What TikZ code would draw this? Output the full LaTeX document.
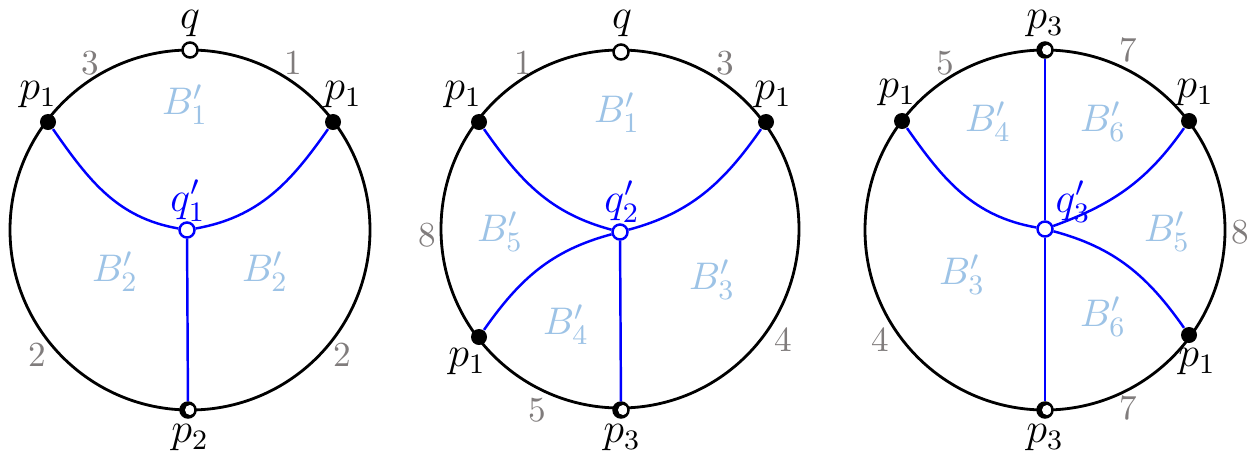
\documentclass[tikz,border=0pt]{standalone}
\definecolor{regblue}{RGB}{157,195,230}
\definecolor{arcgray}{RGB}{128,124,124}
\tikzset{
    pt/.style={circle,fill=black,inner sep=0pt,minimum size=0.16cm},
    opn/.style={circle,draw=black,fill=white,line width=0.7pt,inner sep=0pt,minimum size=0.15cm},
    ctr/.style={circle,draw=blue,fill=white,line width=0.7pt,inner sep=0pt,minimum size=0.15cm},
    half/.style={circle,draw=black,fill=white,line width=0.7pt,inner sep=0pt,minimum size=0.15cm,
        path picture={\fill[black] (path picture bounding box.south west) rectangle (path picture bounding box.north east);
                      \fill[white] ([xshift=0.02cm]path picture bounding box.center) circle (0.05cm);}},
    lab/.style={font=\large,inner sep=1pt},
    qlab/.style={lab,text=blue},
    num/.style={text=arcgray,font=\normalsize},
    reg/.style={text=regblue,font=\fontsize{10.95}{13}\selectfont},
    edge/.style={blue,line width=0.7pt},
    rim/.style={black,line width=0.8pt}
}

\begin{document}
\begin{tikzpicture}[x=0.01cm,y=0.01cm]
    \useasboundingbox (0,0) rectangle (1258,460);

    % first disc
    \draw[rim] (190,230) circle (180);
    \node[opn] (aq) at (190,410) {};
    \node[pt] (ap1) at (48,338) {};
    \node[pt] (ap2) at (333,338) {};
    \node[ctr] (ac) at (187,230) {};
    \node[half] (ap3) at (188,50) {};
    \draw[edge] (ap1) to[out=-55,in=170] (ac);
    \draw[edge] (ap2) to[out=-125,in=10] (ac);
    \draw[edge] (ac) -- (ap3);
    \node[lab] (aql) at (190,436) {$q$};
    \node[lab] (ap1l) at (38,365) {$p_1$};
    \node[lab] (ap2l) at (343,365) {$p_1$};
    \node[qlab] (acl) at (188,259) {$q'_1$};
    \node[lab] (ap3l) at (190,22) {$p_2$};
    \node[num] (an1) at (90,397) {3};
    \node[num] (an2) at (293,397) {1};
    \node[num] (an3) at (37,105) {2};
    \node[num] (an4) at (342,105) {2};
    \node[reg] (ab1) at (185,355) {$B'_1$};
    \node[reg] (ab2) at (115,188) {$B'_2$};
    \node[reg] (ab3) at (265,188) {$B'_2$};

    % second disc
    \draw[rim] (620,231) circle (179);
    \node[opn] (bq) at (621,408) {};
    \node[pt] (bp1) at (479,338) {};
    \node[pt] (bp2) at (766,338) {};
    \node[pt] (bp3) at (479,123) {};
    \node[ctr] (bc) at (620,228) {};
    \node[half] (bp4) at (621,50) {};
    \draw[edge] (bp1) to[out=-55,in=165] (bc);
    \draw[edge] (bp2) to[out=-125,in=15] (bc);
    \draw[edge] (bp3) to[out=55,in=195] (bc);
    \draw[edge] (bc) -- (bp4);
    \node[lab] (bql) at (622,436) {$q$};
    \node[lab] (bp1l) at (463,365) {$p_1$};
    \node[lab] (bp2l) at (773,365) {$p_1$};
    \node[lab] (bp3l) at (467,98) {$p_1$};
    \node[qlab] (bcl) at (622,258) {$q'_2$};
    \node[lab] (bp4l) at (622,22) {$p_3$};
    \node[num] (bn1) at (523,397) {1};
    \node[num] (bn2) at (725,397) {3};
    \node[num] (bn3) at (427,225) {8};
    \node[num] (bn4) at (783,120) {4};
    \node[num] (bn5) at (537,50) {5};
    \node[reg] (bb1) at (617,347) {$B'_1$};
    \node[reg] (bb5) at (500,228) {$B'_5$};
    \node[reg] (bb3) at (712,180) {$B'_3$};
    \node[reg] (bb4) at (566,135) {$B'_4$};

    % third disc
    \draw[rim] (1045,230) circle (180);
    \node[half] (cp3) at (1045,410) {};
    \node[half] (cp4) at (1045,50) {};
    \node[pt] (cp1) at (902,339) {};
    \node[pt] (cp2) at (1189,339) {};
    \node[pt] (cp5) at (1189,125) {};
    \node[ctr] (cc) at (1045,231) {};
    \draw[edge] (cp3) -- (cc);
    \draw[edge] (cc) -- (cp4);
    \draw[edge] (cp1) to[out=-55,in=170] (cc);
    \draw[edge] (cp2) to[out=-125,in=20] (cc);
    \draw[edge] (cp5) to[out=125,in=-15] (cc);
    \node[lab] (cp3l) at (1045,436) {$p_3$};
    \node[lab] (cp4l) at (1045,22) {$p_3$};
    \node[lab] (cp1l) at (897,367) {$p_1$};
    \node[lab] (cp2l) at (1195,367) {$p_1$};
    \node[lab] (cp5l) at (1197,98) {$p_1$};
    \node[qlab] (ccl) at (1073,258) {$q'_3$};
    \node[num] (cn1) at (945,397) {5};
    \node[num] (cn2) at (1128,410) {7};
    \node[num] (cn3) at (1240,228) {8};
    \node[num] (cn4) at (880,120) {4};
    \node[num] (cn5) at (1128,52) {7};
    \node[reg] (cb4) at (988,338) {$B'_4$};
    \node[reg] (cb6) at (1103,338) {$B'_6$};
    \node[reg] (cb5) at (1167,228) {$B'_5$};
    \node[reg] (cb3) at (962,185) {$B'_3$};
    \node[reg] (cb7) at (1103,143) {$B'_6$};
\end{tikzpicture}
\end{document}
